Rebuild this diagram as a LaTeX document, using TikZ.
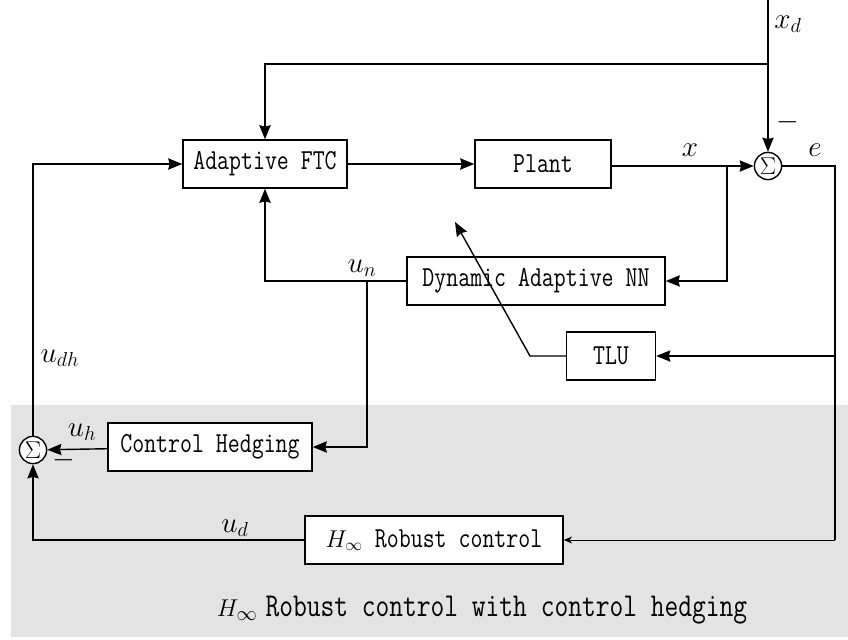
\documentclass[tikz,border=0pt]{standalone}
\usetikzlibrary{arrows.meta}
\newcommand{\tallt}[1]{\scalebox{1}[1.25]{#1}}
\tikzset{
  blk/.style={draw,line width=1pt,fill=white,minimum height=1.2cm,inner sep=0pt,
    font=\ttfamily\fontsize{16.5}{18}\selectfont},
  sumnode/.style={draw,circle,line width=1pt,fill=white,minimum size=0.68cm,inner sep=0pt,
    font=\fontsize{16}{18}\selectfont},
  lbl/.style={font=\fontsize{21}{24}\selectfont}
}
\begin{document}
\begin{tikzpicture}[x=0.025cm,y=-0.025cm,>={Stealth[length=10pt,width=8pt,inset=1pt]},line width=1pt]
				\useasboundingbox (0,0) rectangle (848,639);
				\fill[black!11] (11,405) rectangle (848,637);
				% blocks
				\node[blk,minimum width=4.1cm] (ftc) at (265,164) {\tallt{Adaptive FTC}};
				\node[blk,minimum width=3.4cm] (plant) at (543,164) {\tallt{Plant}};
				\node[blk,minimum width=6.45cm] (dnn) at (536,281) {\tallt{Dynamic Adaptive NN}};
				\node[blk,minimum width=2.225cm] (tlu) at (611,356) {\tallt{TLU}};
				\node[blk,minimum width=5.1cm] (hedge) at (210,447) {\tallt{Control Hedging}};
				\node[blk,minimum width=6.45cm] (hinf) at (434,540) {$H_{\infty}$ \tallt{Robust control}};
				\node[sumnode] (s1) at (768,166) {$\Sigma$};
				\node[sumnode] (s2) at (33,450) {$\Sigma$};
				% branch points
				\coordinate (xd) at (768,0);
				\coordinate (xdb) at (768,64);
				\coordinate (xb) at (727,166);
				\coordinate (unb) at (367,281);
				\coordinate (eR) at (835,166);
				\coordinate (eT) at (835,356);
				\coordinate (eB) at (835,540);
				\coordinate (tk) at (530,356);
				\coordinate (tip) at (455,222);
				% connectors
				\draw[->] (xd) -- (s1);
				\draw[->] (xdb) -| (ftc.north);
				\draw[->] (ftc) -- (plant);
				\draw[->] (plant.east |- s1) -- (s1);
				\draw[->] (xb) |- (dnn);
				\draw[->] (dnn.west) -| (ftc.south);
				\draw[->] (unb) |- (hedge);
				\draw[->] (hedge) -- (s2);
				\draw[->] (s2) |- (ftc.west);
				\draw[->] (hinf) -| (s2);
				\draw (s1) -- (eR) -- (eB);
				\draw[->] (eT) -- (tlu);
				\draw[-{Stealth[length=6pt,width=5pt]},line width=0.6pt] (eB) -- (hinf);
				\draw[->] (tlu) -- (tk) -- (tip);
				% labels
				\node[lbl] (lxd) at (788,24) {$x_{d}$};
				\node[lbl] (lm1) at (788,122) {$-$};
				\node[lbl] (lx) at (690,150) {$x$};
				\node[lbl] (le) at (815,150) {$e$};
				\node[lbl] (lun) at (362,268) {$u_{n}$};
				\node[lbl] (luh) at (82,432) {$u_{h}$};
				\node[lbl] (lm2) at (64,460) {$-$};
				\node[lbl] (ludh) at (60,358) {$u_{dh}$};
				\node[lbl] (lud) at (235,528) {$u_{d}$};
				\node[font=\fontsize{19}{22}\selectfont] (cap) at (482,610) {$H_{\infty}$ \texttt{\tallt{Robust control with control hedging}}};
			\end{tikzpicture}
\end{document}
